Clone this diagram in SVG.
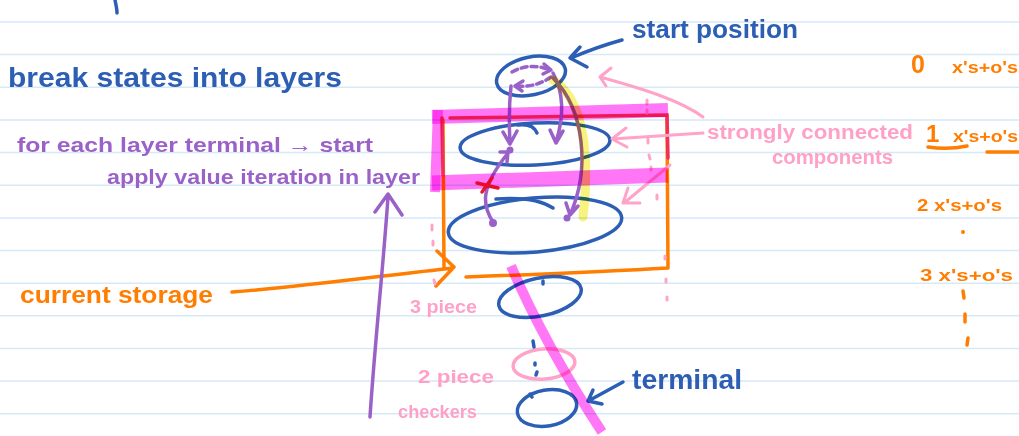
<svg xmlns="http://www.w3.org/2000/svg" width="1019" height="436" viewBox="0 0 1019 436">
<style>
.rule{stroke:#d5e9f8;stroke-width:1.5}
.t{font-family:"Liberation Sans","DejaVu Sans",sans-serif;font-weight:bold}
.blue{fill:#2c5fb4}.purple{fill:#9a62c8}.orange{fill:#ff7d00}.pink{fill:#ffa0c6}
.sb{fill:none;stroke:#2c5fb4;stroke-width:3.5;stroke-linecap:round;stroke-linejoin:round}
.sp{fill:none;stroke:#9a62c8;stroke-width:3.5;stroke-linecap:round;stroke-linejoin:round}
.so{fill:none;stroke:#ff7d00;stroke-width:3.5;stroke-linecap:round;stroke-linejoin:round}
.sk{fill:none;stroke:#ffa3c8;stroke-width:3;stroke-linecap:round;stroke-linejoin:round}
.sr{fill:none;stroke:#f0305a;stroke-width:3.5;stroke-linecap:round}
.hm{fill:none;stroke:#ff70f6;mix-blend-mode:multiply;opacity:0.95}
.hy{fill:none;stroke:#f6f270;mix-blend-mode:multiply;opacity:0.9}
</style>
<rect width="1019" height="436" fill="#ffffff"/>
<g id="ruled-lines">
<line class="rule" x1="0" y1="22" x2="1019" y2="22"/>
<line class="rule" x1="0" y1="54.6" x2="1019" y2="54.6"/>
<line class="rule" x1="0" y1="87.3" x2="1019" y2="87.3"/>
<line class="rule" x1="0" y1="120" x2="1019" y2="120"/>
<line class="rule" x1="0" y1="152.6" x2="1019" y2="152.6"/>
<line class="rule" x1="0" y1="185.3" x2="1019" y2="185.3"/>
<line class="rule" x1="0" y1="218" x2="1019" y2="218"/>
<line class="rule" x1="0" y1="250.5" x2="1019" y2="250.5"/>
<line class="rule" x1="0" y1="283.2" x2="1019" y2="283.2"/>
<line class="rule" x1="0" y1="315.8" x2="1019" y2="315.8"/>
<line class="rule" x1="0" y1="348.5" x2="1019" y2="348.5"/>
<line class="rule" x1="0" y1="381" x2="1019" y2="381"/>
<line class="rule" x1="0" y1="413.8" x2="1019" y2="413.8"/>
</g>
<path class="sb" d="M115,0 C116,5 117,9 117,13"/>
<g id="title"><text class="t blue" x="8" y="87" font-size="27" textLength="334" lengthAdjust="spacingAndGlyphs">break states into layers</text></g>
<g id="note-for-each"><text class="t purple" x="17" y="152" font-size="21" textLength="356" lengthAdjust="spacingAndGlyphs">for each layer terminal → start</text></g>
<g id="note-apply"><text class="t purple" x="107" y="184" font-size="21" textLength="313" lengthAdjust="spacingAndGlyphs">apply value iteration in layer</text></g>
<g id="label-current-storage"><text class="t orange" x="20" y="303" font-size="23" textLength="193" lengthAdjust="spacingAndGlyphs">current storage</text></g>
<g id="label-start-position"><text class="t blue" x="632" y="38" font-size="25" textLength="166" lengthAdjust="spacingAndGlyphs">start position</text></g>
<g id="label-scc">
<text class="t pink" x="707" y="139" font-size="20" textLength="206" lengthAdjust="spacingAndGlyphs">strongly connected</text>
<text class="t pink" x="772" y="164" font-size="20" textLength="121" lengthAdjust="spacingAndGlyphs">components</text>
</g>
<g id="label-terminal"><text class="t blue" x="632" y="389" font-size="27" textLength="110" lengthAdjust="spacingAndGlyphs">terminal</text></g>
<g id="label-3piece"><text class="t pink" x="410" y="313" font-size="18" textLength="67" lengthAdjust="spacingAndGlyphs">3 piece</text></g>
<g id="label-2piece"><text class="t pink" x="418" y="383" font-size="18" textLength="76" lengthAdjust="spacingAndGlyphs">2 piece</text></g>
<g id="label-checkers"><text class="t pink" x="398" y="418" font-size="18" textLength="79" lengthAdjust="spacingAndGlyphs">checkers</text></g>
<g id="layer-counts">
<text class="t orange" x="911" y="73" font-size="25">0</text>
<text class="t orange" x="952" y="73" font-size="17" textLength="66" lengthAdjust="spacingAndGlyphs">x's+o's</text>
<text class="t orange" x="926" y="142" font-size="24">1</text>
<text class="t orange" x="953" y="142" font-size="17" textLength="65" lengthAdjust="spacingAndGlyphs">x's+o's</text>
<path class="so" d="M928,147 Q948,150 967,146 M987,152 L1018,152"/>
<text class="t orange" x="917" y="211" font-size="17" textLength="85" lengthAdjust="spacingAndGlyphs">2 x's+o's</text>
<circle cx="963" cy="232" r="2" fill="#ff7d00"/>
<text class="t orange" x="920" y="281" font-size="17" textLength="93" lengthAdjust="spacingAndGlyphs">3 x's+o's</text>
<path class="so" d="M963,291 L964,298 M965,314 L965,322 M968,338 L967,345"/>
</g>
<g id="layer-box">
<path class="so" d="M443,120 L444,268"/>
<path class="so" d="M667,117 L668,268 Q600,272 466,277"/>
<path class="sr" d="M450,118 L667,115 L668,158"/>
<path class="sr" d="M442,118 L443,175"/>
</g>
<g id="layer-start"><ellipse class="sb" cx="531" cy="76" rx="35" ry="19" transform="rotate(-12 531 76)"/></g>
<g id="layer-1"><ellipse class="sb" cx="535" cy="144" rx="75" ry="21" transform="rotate(-3 535 144)"/><path class="sb" d="M518,125 Q533,123 537,133"/></g>
<g id="layer-2"><ellipse class="sb" cx="535" cy="225" rx="87" ry="27" transform="rotate(-5 535 225)"/><path class="sb" d="M496,199 Q535,196 553,208"/></g>
<g id="layer-3piece"><ellipse class="sb" cx="540" cy="297" rx="42" ry="19" transform="rotate(-12 540 297)"/><path class="sb" d="M543,281 L543,284"/></g>
<g id="layer-2piece"><ellipse class="sk" cx="544" cy="364" rx="31" ry="15" transform="rotate(-5 544 364)" style="stroke-width:3.5"/><path class="sb" d="M533,341 L534,347 M535,363 L535,365 M537,372 L536,375"/></g>
<g id="layer-terminal"><ellipse class="sb" cx="547" cy="408" rx="30" ry="18" transform="rotate(-10 547 408)"/><path class="sb" d="M530,394 L532,397"/></g>
<g id="connectors">
<path class="sb" d="M622,40 C600,46 585,52 571,58 M580,47 L570,58 L587,67"/>
<path class="sb" d="M623,382 L590,400 M593,390 L588,401 L602,404"/>
<path class="so" d="M232,292 C300,287 380,276 453,268 M437,251 L454,267 L436,286"/>
<path class="sp" d="M370,417 C375,340 383,270 388,197 M375,212 L388,194 L402,215"/>
<path class="sp" d="M512,72 Q530,62 550,70" stroke-dasharray="6 4"/>
<path class="sp" d="M544,64 L551,70 L543,74"/>
<path class="sp" d="M551,77 Q535,88 516,86" stroke-dasharray="6 4"/>
<path class="sp" d="M523,81 L515,86 L522,91"/>
<path class="sp" d="M511,86 C509,105 509,125 510,143 M503,132 L510,144 L517,131"/>
<path class="sp" d="M553,73 C565,95 563,120 556,142 M550,130 L556,143 L563,131"/>
<path class="sp" d="M493,222 C482,205 480,188 508,153 M500,152 L508,152 L507,162"/>
<path class="sp" d="M553,78 C585,110 590,170 570,215 M566,203 L570,215 L578,206"/>
<circle cx="510" cy="150" r="3.5" fill="#9a62c8"/>
<circle cx="493" cy="223" r="4" fill="#9a62c8"/>
<circle cx="567" cy="218" r="3.5" fill="#9a62c8"/>
<path class="sr" d="M477,183 L498,188 M482,192 L492,178" style="stroke:#e8192c"/>
<path class="sk" d="M703,117 C680,100 640,88 600,77 M611,68 L600,77 L606,86"/>
<path class="sk" d="M703,133 L612,139 M626,128 L612,139 L627,147"/>
<path class="sk" d="M670,165 L624,203 M628,188 L623,203 L640,203"/>
</g>
<g id="pink-dashes">
<path class="sk" d="M432,225 L432,230 M433,241 L433,245 M434,280 L435,284 M647,100 L647,104 M647,110 L647,113 M648,139 L648,143 M649,155 L650,159 M651,167 L651,170 M657,195 L657,199 M665,256 L665,259 M666,279 L666,282 M667,297 L667,300"/>
</g>
<g id="highlights">
<path class="hm" d="M432,117 L668,110" stroke-width="14"/>
<path class="hm" d="M438,110 L435,192" stroke-width="10"/>
<path class="hm" d="M432,183 L668,175" stroke-width="15"/>
<path class="hm" d="M511,266 Q545,345 602,432" stroke-width="10"/>
<path class="hy" d="M553,80 C578,95 592,140 583,217" stroke-width="9" stroke-linecap="round"/>
</g>
</svg>
